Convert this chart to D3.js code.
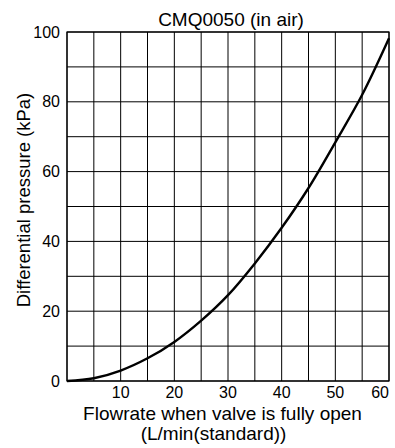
<!DOCTYPE html>
<html>
<head>
<meta charset="utf-8">
<script src="https://cdn.jsdelivr.net/npm/d3@7"></script>
<style>
  html, body { margin: 0; padding: 0; background: #fff; }
  svg text { font-family: "Liberation Sans", Arial, Helvetica, sans-serif; fill: #000; }
</style>
</head>
<body>
<svg id="chart" width="395" height="448"></svg>
<script>
// Flowrate (L/min, standard) vs. differential pressure (kPa)
const flowrate = [0, 5, 10, 15, 20, 25, 30, 35, 40, 45, 50, 55, 60];
const pressure = [0, 0.8, 3.0, 6.5, 11.2, 17.3, 24.6, 33.7, 43.9, 55.3, 68.4, 82.0, 98.2];

const xGrid = d3.range(0, 61, 5);
const yGrid = d3.range(0, 101, 10);
const xTickLabels = [10, 20, 30, 40, 50, 60];
const yTickLabels = [0, 20, 40, 60, 80, 100];

const titleText = "CMQ0050 (in air)";
const xLabelLines = ["Flowrate when valve is fully open", "(L/min(standard))"];
const yLabelText = "Differential pressure (kPa)";

const svg = d3.select("#chart");
const plot = { left: 67, right: 389, top: 32, bottom: 381 };

const x = d3.scaleLinear().domain([0, 60]).range([plot.left, plot.right]);
const y = d3.scaleLinear().domain([0, 100]).range([plot.bottom, plot.top]);

// grid
const grid = svg.append("g").attr("stroke", "#000").attr("stroke-width", 1);
grid.selectAll("line.v").data(xGrid).join("line")
  .attr("class", "v")
  .attr("x1", d => x(d)).attr("x2", d => x(d))
  .attr("y1", plot.top).attr("y2", plot.bottom);
grid.selectAll("line.h").data(yGrid).join("line")
  .attr("class", "h")
  .attr("x1", plot.left).attr("x2", plot.right)
  .attr("y1", d => y(d)).attr("y2", d => y(d));

// frame
svg.append("rect")
  .attr("x", plot.left).attr("y", plot.top)
  .attr("width", plot.right - plot.left).attr("height", plot.bottom - plot.top)
  .attr("fill", "none").attr("stroke", "#000").attr("stroke-width", 1.2);

// tick labels
svg.append("g").selectAll("text").data(xTickLabels).join("text")
  .attr("x", d => x(d))
  .attr("y", 398)
  .attr("text-anchor", d => d === 60 ? "end" : "middle")
  .attr("font-size", 16)
  .text(d => d);

svg.append("g").selectAll("text").data(yTickLabels).join("text")
  .attr("x", 60)
  .attr("y", d => y(d) + 5.5)
  .attr("text-anchor", "end")
  .attr("font-size", 16)
  .text(d => d);

// curve
const line = d3.line()
  .x((d, i) => x(flowrate[i]))
  .y(d => y(d))
  .curve(d3.curveCatmullRom.alpha(0.5));
svg.append("path")
  .datum(pressure)
  .attr("d", line)
  .attr("fill", "none")
  .attr("stroke", "#000")
  .attr("stroke-width", 2.4);

// title
svg.append("text")
  .attr("x", 231).attr("y", 25.5)
  .attr("text-anchor", "middle")
  .attr("font-size", 19)
  .text(titleText);

// axis labels
svg.append("text")
  .attr("x", 222.5).attr("y", 420)
  .attr("text-anchor", "middle")
  .attr("font-size", 19)
  .text(xLabelLines[0]);
svg.append("text")
  .attr("x", 213.5).attr("y", 440)
  .attr("text-anchor", "middle")
  .attr("font-size", 19)
  .text(xLabelLines[1]);

svg.append("text")
  .attr("transform", "translate(30,200) rotate(-90)")
  .attr("text-anchor", "middle")
  .attr("font-size", 18.5)
  .text(yLabelText);
</script>
</body>
</html>
